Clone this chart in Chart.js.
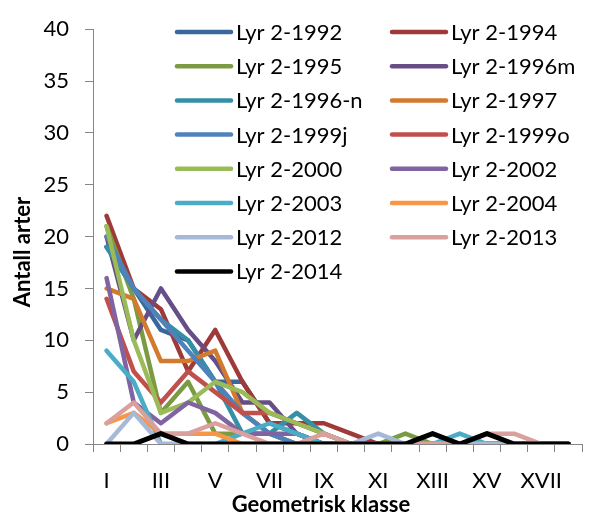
<!DOCTYPE html>
<html>
<head>
<meta charset="utf-8">
<script src="https://cdn.jsdelivr.net/npm/chart.js@4.4.1/dist/chart.umd.min.js"></script>
<style>
  html, body { margin: 0; padding: 0; background: #fff; }
  #wrap { width: 592px; height: 517px; position: relative; }
</style>
</head>
<body>
<div id="wrap"><canvas id="c" width="592" height="517"></canvas></div>
<script>
// Categories (geometric classes)
const klasser = ["I", "II", "III", "IV", "V", "VI", "VII", "VIII", "IX", "X",
  "XI", "XII", "XIII", "XIV", "XV", "XVI", "XVII", "XVIII"];

// Series values
const lyr1992  = [19, 15, 11, 10, 6, 6, 2, 1, 0, 0, 0, 0, 0, 0, 0, 0, 0, 0];
const lyr1994  = [22, 15, 13, 7, 11, 6, 2, 2, 2, 1, 0, 0, 0, 0, 0, 0, 0, 0];
const lyr1995  = [21, 14, 3, 6, 1, 1, 1, 0, 0, 0, 0, 1, 0, 0, 0, 0, 0, 0];
const lyr1996m = [20, 10, 15, 11, 8, 4, 4, 1, 0, 0, 0, 0, 0, 0, 0, 0, 0, 0];
const lyr1996n = [19, 15, 12, 10, 6, 1, 1, 3, 1, 0, 0, 0, 0, 0, 0, 0, 0, 0];
const lyr1997  = [15, 14, 8, 8, 9, 3, 1, 0, 0, 0, 0, 0, 0, 0, 0, 0, 0, 0];
const lyr1999j = [20, 15, 12, 9, 6, 3, 1, 0, 0, 0, 0, 0, 0, 0, 0, 0, 0, 0];
const lyr1999o = [14, 7, 4, 7, 5, 3, 3, 2, 1, 0, 0, 0, 0, 0, 0, 0, 0, 0];
const lyr2000  = [21, 10, 3, 4, 6, 5, 3, 2, 1, 0, 0, 0, 0, 0, 0, 0, 0, 0];
const lyr2002  = [16, 4, 2, 4, 3, 1, 1, 1, 0, 0, 0, 0, 0, 0, 0, 0, 0, 0];
const lyr2003  = [9, 6, 0, 0, 0, 1, 2, 1, 0, 0, 0, 0, 0, 1, 0, 0, 0, 0];
const lyr2004  = [2, 3, 1, 1, 1, 0, 0, 0, 0, 0, 0, 0, 0, 0, 0, 0, 0, 0];
const lyr2012  = [0, 3, 0, 0, 0, 0, 0, 0, 0, 0, 1, 0, 0, 0, 0, 0, 0, 0];
const lyr2013  = [2, 4, 1, 1, 2, 1, 0, 0, 1, 0, 0, 0, 0, 0, 1, 1, 0, 0];
const lyr2014  = [0, 0, 1, 0, 0, 0, 0, 0, 0, 0, 0, 0, 1, 0, 1, 0, 0, 0];

const seriesNames = ["Lyr 2-1992", "Lyr 2-1994", "Lyr 2-1995", "Lyr 2-1996m", "Lyr 2-1996-n",
  "Lyr 2-1997", "Lyr 2-1999j", "Lyr 2-1999o", "Lyr 2-2000", "Lyr 2-2002", "Lyr 2-2003",
  "Lyr 2-2004", "Lyr 2-2012", "Lyr 2-2013", "Lyr 2-2014"];
const seriesData = [lyr1992, lyr1994, lyr1995, lyr1996m, lyr1996n, lyr1997, lyr1999j,
  lyr1999o, lyr2000, lyr2002, lyr2003, lyr2004, lyr2012, lyr2013, lyr2014];
const seriesColors = ["#3A679C", "#9E3B39", "#7B9B42", "#664E86", "#3590A5", "#D27B2E",
  "#4F81BD", "#C0504D", "#9BBB59", "#8064A2", "#4BACC6", "#F79646", "#A6B9D9", "#D9A09E", "#000000"];

const xTitle = "Geometrisk klasse";
const yTitle = "Antall arter";

const FONT = "Lato, 'Liberation Sans', sans-serif";

// Excel-style legend drawn inside the plot (two columns) plus axis titles
const excelDecor = {
  id: "excelDecor",
  afterDraw(chart) {
    const ctx = chart.ctx;
    ctx.save();
    ctx.font = "22px " + FONT;
    ctx.textBaseline = "middle";
    ctx.fillStyle = "#000";
    chart.data.datasets.forEach((ds, i) => {
      const col = i % 2, row = Math.floor(i / 2);
      const x0 = col === 0 ? 177 : 392;
      const y = 32 + row * 34.2;
      ctx.strokeStyle = ds.borderColor;
      ctx.lineWidth = 4.5;
      ctx.lineCap = "round";
      ctx.beginPath();
      ctx.moveTo(x0, y);
      ctx.lineTo(x0 + 54, y);
      ctx.stroke();
      ctx.fillText(ds.label, x0 + 59, y + 1);
    });

    // axis titles
    ctx.font = "bold 22px " + FONT;
    ctx.textAlign = "center";
    ctx.fillText(xTitle, 321, 505);
    ctx.translate(23, 252);
    ctx.rotate(-Math.PI / 2);
    ctx.fillText(yTitle, 0, 0);
    ctx.restore();
  }
};

new Chart(document.getElementById("c"), {
  type: "line",
  data: {
    labels: klasser,
    datasets: seriesNames.map((name, i) => ({
      label: name,
      data: seriesData[i],
      borderColor: seriesColors[i],
      backgroundColor: seriesColors[i],
      borderWidth: i === 14 ? 5 : 4.5,
      pointRadius: 0,
      tension: 0,
      borderJoinStyle: "round",
      borderCapStyle: "round",
      order: 15 - i,
    })),
  },
  options: {
    responsive: false,
    animation: false,
    devicePixelRatio: 1,
    layout: { padding: { top: 26, right: 10, left: 0, bottom: 0 } },
    plugins: {
      legend: { display: false },
      tooltip: { enabled: false },
    },
    scales: {
      x: {
        offset: true,
        grid: { offset: true, drawOnChartArea: false, drawTicks: true, tickLength: 8, color: "#868686" },
        border: { color: "#868686", width: 1 },
        ticks: {
          autoSkip: false,
          maxRotation: 0,
          padding: 16,
          color: "#000",
          font: { family: FONT, size: 22 },
          callback: function(v, i) { return i % 2 === 0 ? this.getLabelForValue(v) : ""; },
        },
        afterFit(scale) { scale.height = 73; },
      },
      y: {
        min: 0,
        max: 40,
        grid: { drawOnChartArea: false, drawTicks: true, tickLength: 8, color: "#868686" },
        border: { color: "#868686", width: 1 },
        ticks: {
          stepSize: 5,
          padding: 16,
          color: "#000",
          font: { family: FONT, size: 22 },
        },
        afterFit(scale) { scale.width = 93; },
      },
    },
  },
  plugins: [excelDecor],
});
</script>
</body>
</html>
